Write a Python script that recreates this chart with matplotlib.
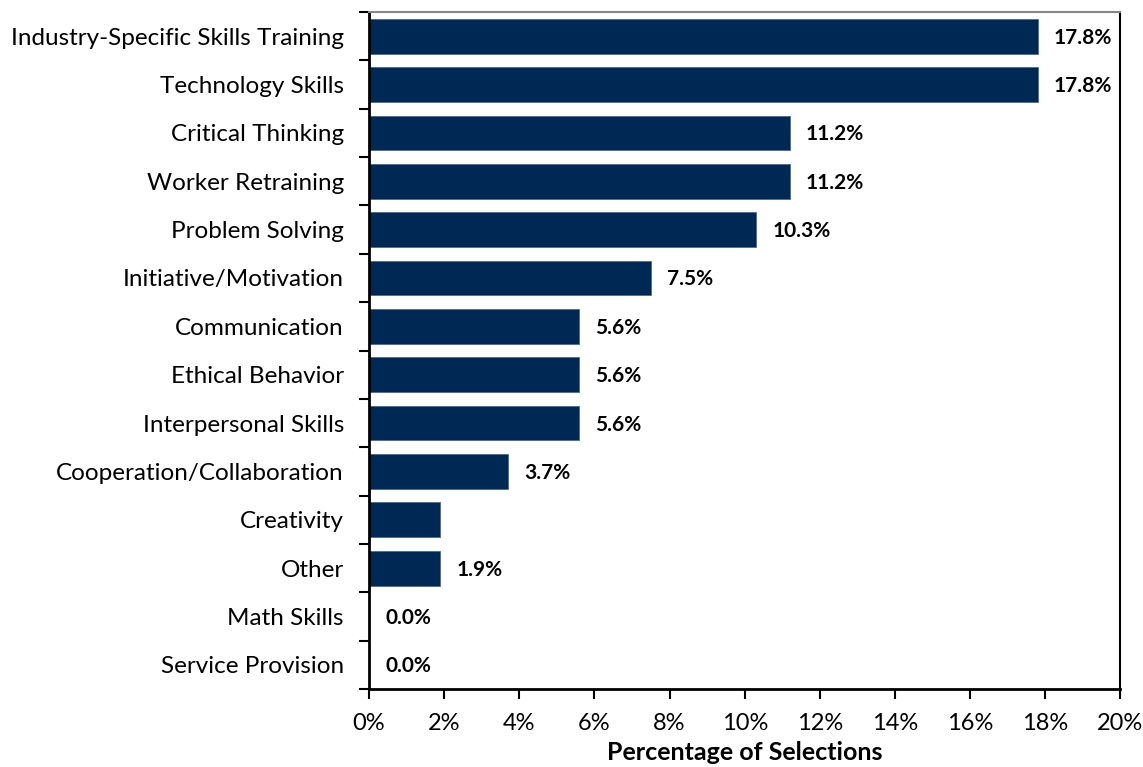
import matplotlib.pyplot as plt
from matplotlib.ticker import FuncFormatter, FixedLocator

categories = ["Industry-Specific Skills Training", "Technology Skills", "Critical Thinking",
              "Worker Retraining", "Problem Solving", "Initiative/Motivation", "Communication",
              "Ethical Behavior", "Interpersonal Skills", "Cooperation/Collaboration",
              "Creativity", "Other", "Math Skills", "Service Provision"]
values = [17.8, 17.8, 11.2, 11.2, 10.3, 7.5, 5.6, 5.6, 5.6, 3.7, 1.9, 1.9, 0.0, 0.0]
# the source chart shows no label on the Creativity bar
show_label = [True] * 10 + [False] + [True] * 3

plt.rcParams['font.family'] = ['Lato', 'DejaVu Sans']

fig = plt.figure(figsize=(11.43, 7.67), dpi=100)
ax = fig.add_axes([0.3228, 0.1017, 0.6575, 0.8826])

y = list(range(len(categories)))
ax.barh(y, values, height=0.72, color='#002855', edgecolor='#4a6a90', linewidth=0.6)
for i, v in enumerate(values):
    if show_label[i]:
        ax.text(v + 0.43, i + 0.03, f"{v:.1f}%", va='center', ha='left',
                fontsize=15, fontweight='bold', color='black')

ax.set_ylim(len(categories) - 0.5, -0.5)
ax.set_xlim(0, 20)
ax.set_xticks(range(0, 21, 2))
ax.xaxis.set_major_formatter(FuncFormatter(lambda x, p: f"{x:.0f}%"))
ax.set_yticks(y)
ax.set_yticklabels(categories)
ax.yaxis.set_minor_locator(FixedLocator([i - 0.5 for i in range(len(categories) + 1)]))
ax.tick_params(axis='y', which='major', length=0, pad=18, labelsize=17.5)
ax.tick_params(axis='y', which='minor', length=7, width=1.5, direction='out')
ax.tick_params(axis='x', length=7, width=1.5, direction='out', labelsize=17, pad=10)
ax.set_xlabel("Percentage of Selections", fontsize=18, fontweight='bold', labelpad=5)

for s in ['left', 'bottom']:
    ax.spines[s].set_linewidth(2)
ax.spines['right'].set_linewidth(1.5)
ax.spines['top'].set_color('#888888')
ax.spines['top'].set_linewidth(1.5)

fig.savefig("out.png", dpi=100)
